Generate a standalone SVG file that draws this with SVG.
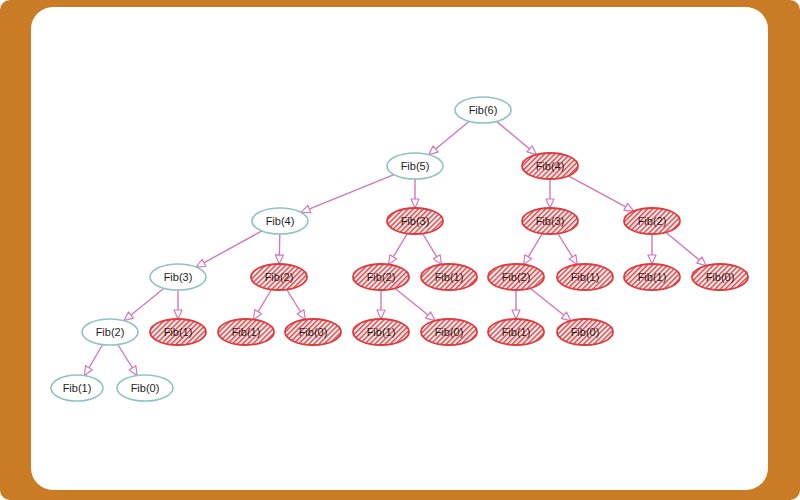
<svg xmlns="http://www.w3.org/2000/svg" width="800" height="500" viewBox="0 0 800 500">
<defs>
<pattern id="hatch" patternUnits="userSpaceOnUse" width="3.6" height="3.6" patternTransform="rotate(45)">
<rect width="3.6" height="3.6" fill="#fdf2f2"/>
<line x1="0.8" y1="0" x2="0.8" y2="3.6" stroke="#e0464a" stroke-width="1.5"/>
</pattern>
<marker id="arr" markerUnits="userSpaceOnUse" viewBox="0 0 10 10" refX="10" refY="5" markerWidth="10" markerHeight="10" orient="auto">
<path d="M1,1 L10,5 L1,9 Z" fill="#ffffff" stroke="#d277bd" stroke-width="1.2" stroke-linejoin="round"/>
</marker>
<style>
.b{fill:#ffffff;stroke:#8fc3c4;stroke-width:1.6}
.r{fill:url(#hatch);stroke:#dd3b3d;stroke-width:1.8}
text{font-family:"Liberation Sans",Arial,sans-serif;font-size:11px;fill:#1e1e1e;text-anchor:middle;dominant-baseline:central}
#edges line{stroke:#d277bd;stroke-width:1.4;marker-end:url(#arr)}
</style>
</defs>
<rect x="0" y="0" width="800" height="500" rx="10" fill="#c97b26"/>
<rect x="31" y="7" width="737" height="483" rx="22" fill="#ffffff"/>
<g id="edges">
<line x1="469.3" y1="121.3" x2="428.7" y2="154.7"/>
<line x1="496.6" y1="121.4" x2="536.4" y2="154.6"/>
<line x1="394" y1="174.6" x2="301" y2="212.4"/>
<line x1="415" y1="179" x2="415" y2="208"/>
<line x1="550" y1="179" x2="550" y2="208"/>
<line x1="568.3" y1="175.9" x2="633.7" y2="211.1"/>
<line x1="261.9" y1="230.9" x2="196.1" y2="267.1"/>
<line x1="279.8" y1="234" x2="279.2" y2="264"/>
<line x1="407.4" y1="233.5" x2="388.6" y2="264.5"/>
<line x1="422.6" y1="233.5" x2="441.4" y2="264.5"/>
<line x1="542.4" y1="233.5" x2="523.6" y2="264.5"/>
<line x1="557.8" y1="233.5" x2="577.2" y2="264.5"/>
<line x1="652" y1="234" x2="652" y2="264"/>
<line x1="665.7" y1="232.3" x2="706.3" y2="265.7"/>
<line x1="164.1" y1="288.3" x2="123.9" y2="320.7"/>
<line x1="178" y1="290" x2="178" y2="319"/>
<line x1="271.5" y1="289.5" x2="253.5" y2="319.5"/>
<line x1="286.7" y1="289.5" x2="305.3" y2="319.5"/>
<line x1="381" y1="290" x2="381" y2="319"/>
<line x1="394.9" y1="288.3" x2="435.1" y2="320.7"/>
<line x1="516" y1="290" x2="516" y2="319"/>
<line x1="530.1" y1="288.2" x2="570.9" y2="320.8"/>
<line x1="102.6" y1="344.5" x2="84.4" y2="375.5"/>
<line x1="117.8" y1="344.5" x2="137.2" y2="375.5"/>
</g>
<g id="n-fib6"><ellipse class="b" cx="483" cy="110" rx="28" ry="13"/><text x="483" y="110">Fib(6)</text></g>
<g id="n-fib5"><ellipse class="b" cx="415" cy="166" rx="28" ry="13"/><text x="415" y="166">Fib(5)</text></g>
<g id="n-fib4r"><ellipse class="r" cx="550" cy="166" rx="28" ry="13"/><text x="550" y="166">Fib(4)</text></g>
<g id="n-fib4b"><ellipse class="b" cx="280" cy="221" rx="28" ry="13"/><text x="280" y="221">Fib(4)</text></g>
<g id="n-fib3a"><ellipse class="r" cx="415" cy="221" rx="28" ry="13"/><text x="415" y="221">Fib(3)</text></g>
<g id="n-fib3b"><ellipse class="r" cx="550" cy="221" rx="28" ry="13"/><text x="550" y="221">Fib(3)</text></g>
<g id="n-fib2a"><ellipse class="r" cx="652" cy="221" rx="28" ry="13"/><text x="652" y="221">Fib(2)</text></g>
<g id="n-fib3c"><ellipse class="b" cx="178" cy="277" rx="28" ry="13"/><text x="178" y="277">Fib(3)</text></g>
<g id="n-fib2b"><ellipse class="r" cx="279" cy="277" rx="28" ry="13"/><text x="279" y="277">Fib(2)</text></g>
<g id="n-fib2c"><ellipse class="r" cx="381" cy="277" rx="28" ry="13"/><text x="381" y="277">Fib(2)</text></g>
<g id="n-fib1a"><ellipse class="r" cx="449" cy="277" rx="28" ry="13"/><text x="449" y="277">Fib(1)</text></g>
<g id="n-fib2d"><ellipse class="r" cx="516" cy="277" rx="28" ry="13"/><text x="516" y="277">Fib(2)</text></g>
<g id="n-fib1b"><ellipse class="r" cx="585" cy="277" rx="28" ry="13"/><text x="585" y="277">Fib(1)</text></g>
<g id="n-fib1c"><ellipse class="r" cx="652" cy="277" rx="28" ry="13"/><text x="652" y="277">Fib(1)</text></g>
<g id="n-fib0a"><ellipse class="r" cx="720" cy="277" rx="28" ry="13"/><text x="720" y="277">Fib(0)</text></g>
<g id="n-fib2e"><ellipse class="b" cx="110" cy="332" rx="28" ry="13"/><text x="110" y="332">Fib(2)</text></g>
<g id="n-fib1d"><ellipse class="r" cx="178" cy="332" rx="28" ry="13"/><text x="178" y="332">Fib(1)</text></g>
<g id="n-fib1e"><ellipse class="r" cx="246" cy="332" rx="28" ry="13"/><text x="246" y="332">Fib(1)</text></g>
<g id="n-fib0b"><ellipse class="r" cx="313" cy="332" rx="28" ry="13"/><text x="313" y="332">Fib(0)</text></g>
<g id="n-fib1f"><ellipse class="r" cx="381" cy="332" rx="28" ry="13"/><text x="381" y="332">Fib(1)</text></g>
<g id="n-fib0c"><ellipse class="r" cx="449" cy="332" rx="28" ry="13"/><text x="449" y="332">Fib(0)</text></g>
<g id="n-fib1g"><ellipse class="r" cx="516" cy="332" rx="28" ry="13"/><text x="516" y="332">Fib(1)</text></g>
<g id="n-fib0d"><ellipse class="r" cx="585" cy="332" rx="28" ry="13"/><text x="585" y="332">Fib(0)</text></g>
<g id="n-fib1h"><ellipse class="b" cx="77" cy="388" rx="26" ry="13"/><text x="77" y="388">Fib(1)</text></g>
<g id="n-fib0e"><ellipse class="b" cx="145" cy="388" rx="28" ry="13"/><text x="145" y="388">Fib(0)</text></g>
</svg>
